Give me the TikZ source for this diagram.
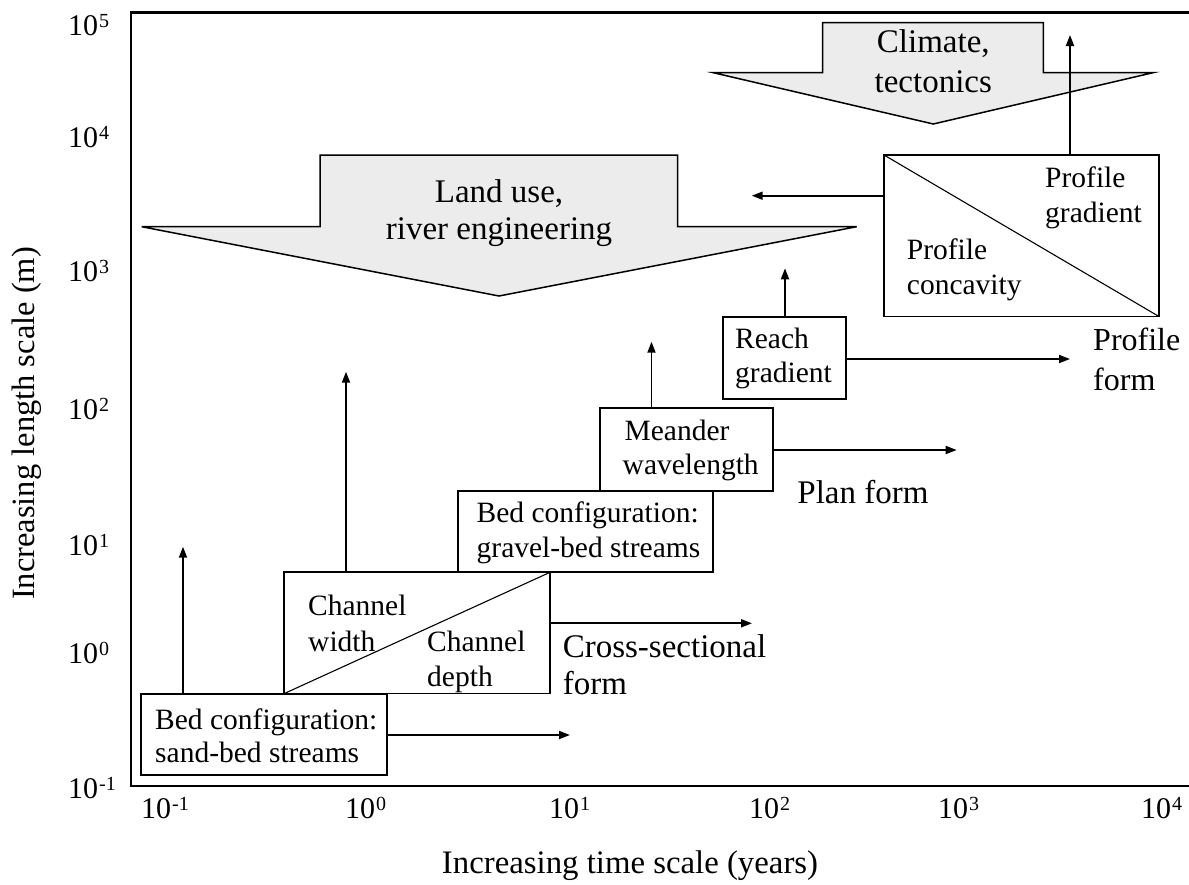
\documentclass[tikz,border=0pt]{standalone}
\usepackage{fontspec}
\setmainfont{Liberation Serif}
\usetikzlibrary{arrows.meta,calc}
\newcommand{\tenp}[1]{10\kern1pt\raisebox{8pt}{\fontsize{20}{20}\selectfont #1}}
\begin{document}
\begin{tikzpicture}[x=1pt,y=-1pt,
  box/.style={draw=black, line width=1.8pt, rectangle, inner sep=0pt, outer sep=0pt},
  frameline/.style={line width=2.6pt, line cap=rect},
  arr/.style={line width=1.8pt, -{Triangle[length=11pt,width=8pt]}},
  grayarrow/.style={draw=black, line width=1.5pt, fill=gray!15, line join=miter},
  boxtxt/.style={font=\fontsize{29.5}{35}\selectfont, inner sep=0pt, anchor=base west},
  bigtxt/.style={font=\fontsize{33}{39}\selectfont, inner sep=0pt, anchor=base west},
  gtxt/.style={font=\fontsize{33}{39}\selectfont, inner sep=0pt, anchor=base},
  ticklbl/.style={font=\fontsize{30}{30}\selectfont, inner sep=0pt, anchor=base},
  diag/.style={line width=1.1pt},
]
\useasboundingbox (0,0) rectangle (1189,884);

% frame
\draw[frameline] (1189,12.7) -- (131,12.7) -- (131,786) -- (1189,786);

% gray driver arrows
\draw[grayarrow] (141.7,226.7) -- (320,226.7) -- (320,155) -- (677.6,155) -- (677.6,226.7) -- (856.7,226.7) -- (499,296) -- cycle;
\draw[grayarrow] (713.3,72.7) -- (822.7,72.7) -- (822.7,22.7) -- (1043.3,22.7) -- (1043.3,72.7) -- (1153,72.7) -- (933.3,124) -- cycle;
\node[gtxt] (land1) at (499,202) {Land use,};
\node[gtxt] (land2) at (499,239) {river engineering};
\node[gtxt] (clim1) at (933.3,52) {Climate,};
\node[gtxt] (clim2) at (933.3,92) {tectonics};

% boxes
\node[box, minimum width=246.6pt, minimum height=81pt] (sand) at (264,734.5) {};
\node[box, minimum width=265.7pt, minimum height=121.2pt] (chan) at (417.2,632.9) {};
\node[box, minimum width=254.4pt, minimum height=81.3pt] (grav) at (585.5,531.65) {};
\node[box, minimum width=173.3pt, minimum height=82.7pt] (mean) at (686.65,449.65) {};
\node[box, minimum width=123pt, minimum height=81.7pt] (reach) at (784.2,358.15) {};
\node[box, minimum width=275pt, minimum height=161.5pt] (prof) at (1021.5,235.75) {};

\draw[diag] (chan.south west) -- (chan.north east);
\draw[diag] (prof.north west) -- (prof.south east);

% box texts
\node[boxtxt] (s1) at (155,729) {Bed configuration:};
\node[boxtxt] (s2) at (155,762) {sand-bed streams};
\node[boxtxt] (c1) at (308,615) {Channel};
\node[boxtxt] (c2) at (308,651) {width};
\node[boxtxt] (c3) at (427,651) {Channel};
\node[boxtxt] (c4) at (427,686) {depth};
\node[boxtxt] (g1) at (476.5,522) {Bed configuration:};
\node[boxtxt] (g2) at (476.5,557) {gravel-bed streams};
\node[boxtxt] (m1) at (624.4,440) {Meander};
\node[boxtxt] (m2) at (622.5,474) {wavelength};
\node[boxtxt] (r1) at (735,348) {Reach};
\node[boxtxt] (r2) at (735,382.5) {gradient};
\node[boxtxt] (p1) at (906.7,259) {Profile};
\node[boxtxt] (p2) at (906.7,294) {concavity};
\node[boxtxt] (p3) at (1045,187) {Profile};
\node[boxtxt] (p4) at (1045,222) {gradient};

% form labels
\node[bigtxt] (xs1) at (562.6,657) {Cross-sectional};
\node[bigtxt] (xs2) at (562.6,694) {form};
\node[bigtxt] (pf) at (797.2,503) {Plan form};
\node[bigtxt, font=\fontsize{32}{39}\selectfont] (prf1) at (1093,350) {Profile};
\node[bigtxt, font=\fontsize{32}{39}\selectfont] (prf2) at (1093,390) {form};

% arrows
\coordinate (a1) at (183,546.7);
\draw[arr] (a1 |- sand.north) -- (a1);
\coordinate (a2) at (570,735);
\draw[arr] (sand.east |- a2) -- (a2);
\coordinate (a3) at (346,371.7);
\draw[arr] (a3 |- chan.north) -- (a3);
\coordinate (a4) at (752,623.3);
\draw[arr] (chan.east |- a4) -- (a4);
\coordinate (a5) at (651.5,341.7);
\draw[arr] (a5 |- mean.north) -- (a5);
\coordinate (a6) at (956.7,450);
\draw[arr] (mean.east |- a6) -- (a6);
\coordinate (a7) at (785,268.3);
\draw[arr] (a7 |- reach.north) -- (a7);
\coordinate (a8) at (1070,359);
\draw[arr] (reach.east |- a8) -- (a8);
\coordinate (a9) at (1070,35);
\draw[arr] (a9 |- prof.north) -- (a9);
\coordinate (a10) at (751.7,195.7);
\draw[arr] (prof.west |- a10) -- (a10);

% y ticks
\node[ticklbl, anchor=base west] (y5) at (68,35) {\tenp{5}};
\node[ticklbl, anchor=base west] (y4) at (68,147) {\tenp{4}};
\node[ticklbl, anchor=base west] (y3) at (68,281) {\tenp{3}};
\node[ticklbl, anchor=base west] (y2) at (68,419) {\tenp{2}};
\node[ticklbl, anchor=base west] (y1) at (68,555) {\tenp{1}};
\node[ticklbl, anchor=base west] (y0) at (68,663) {\tenp{0}};
\node[ticklbl, anchor=base west] (ym1) at (68,798) {\tenp{-1}};
% x ticks ("10" left edge = centre - 15)
\node[ticklbl, anchor=base west] (xm1) at (141,818) {\tenp{-1}};
\node[ticklbl, anchor=base west] (x0) at (345,818) {\tenp{0}};
\node[ticklbl, anchor=base west] (x1) at (549,818) {\tenp{1}};
\node[ticklbl, anchor=base west] (x2) at (749,818) {\tenp{2}};
\node[ticklbl, anchor=base west] (x3) at (938,818) {\tenp{3}};
\node[ticklbl, anchor=base west] (x4) at (1141,818) {\tenp{4}};

% axis titles
\node[font=\fontsize{32.5}{39}\selectfont, rotate=90, inner sep=0pt] (ylab) at (27,423.5) {Increasing length scale (m)};
\node[font=\fontsize{32.8}{39}\selectfont, inner sep=0pt, anchor=base] (xlab) at (630,873) {Increasing time scale (years)};
\end{tikzpicture}
\end{document}
